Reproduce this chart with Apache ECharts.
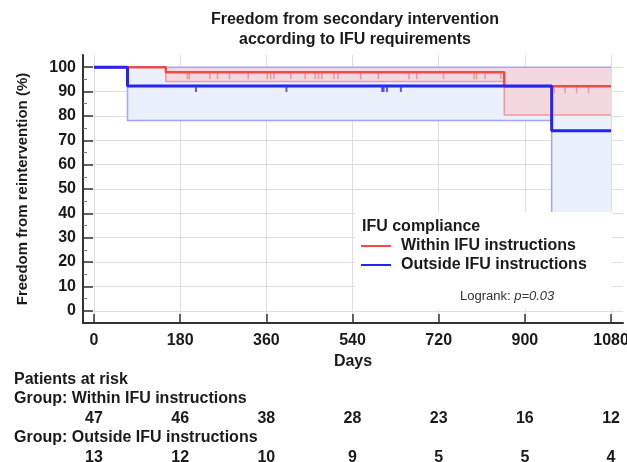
<!DOCTYPE html>
<html>
<head>
<meta charset="utf-8">
<script src="https://cdn.jsdelivr.net/npm/echarts@6/dist/echarts.min.js"></script>
<style>
  html, body { margin: 0; padding: 0; background: #fff; }
  #main { width: 627px; height: 462px; }
</style>
</head>
<body>
<div id="main"></div>
<script>
var FONT = '"Liberation Sans", Arial, sans-serif';

// axis ticks
var dayTicks = [0, 180, 360, 540, 720, 900, 1080];
var pctTicks = [0, 10, 20, 30, 40, 50, 60, 70, 80, 90, 100];
var pctMinor = [5, 15, 25, 35, 45, 55, 65, 75, 85, 95];

// patients at risk at each day tick
var riskWithin = [47, 46, 38, 28, 23, 16, 12];
var riskOutside = [13, 12, 10, 9, 5, 5, 4];

// Within IFU instructions (KM steps + 95% CI)
var withinTimes = [0, 150, 857, 1080];
var withinSurv = [100, 97.9, 92.2, 92.2];
var withinLower = [100, 94.1, 80.4, 80.4];
var withinUpper = [100, 100, 100, 100];
var withinCensored = [195, 199, 242, 258, 283, 322, 362, 369, 376, 411, 441, 462, 469, 476,
  501, 510, 557, 594, 658, 674, 730, 794, 799, 817, 850, 961, 984, 1008, 1033];

// Outside IFU instructions
var outsideTimes = [0, 70, 956, 1080];
var outsideSurv = [100, 92.3, 73.9, 73.9];
var outsideLower = [100, 78.1, 40, 40];
var outsideUpper = [100, 100, 100, 100];
var outsideCensored = [213, 402, 602, 605, 612, 641];

function pairs(xs, ys) {
  return xs.map(function (x, i) { return [x, ys[i]]; });
}
function bands(times, lo, hi) {
  var out = [];
  for (var i = 0; i < times.length - 1; i++) {
    if (hi[i] > lo[i]) out.push([times[i], times[i + 1], lo[i], hi[i]]);
  }
  return out;
}
function survAt(times, surv, t) {
  var v = surv[0];
  for (var i = 0; i < times.length; i++) { if (times[i] <= t) v = surv[i]; }
  return v;
}
function censorPoints(times, surv, cens) {
  return cens.map(function (t) { return [t, survAt(times, surv, t)]; });
}
function bandRenderer(fill) {
  return function (params, api) {
    var a = api.coord([api.value(0), api.value(3)]);
    var b = api.coord([api.value(1), api.value(2)]);
    return {
      type: 'rect',
      shape: { x: a[0], y: a[1], width: b[0] - a[0], height: b[1] - a[1] },
      style: { fill: fill }
    };
  };
}

var chartDom = document.getElementById('main');
var myChart = echarts.init(chartDom);
var option;

var tickLabel = { fontFamily: FONT, fontSize: 16, fontWeight: 'bold', color: '#1a1a1a' };

option = {
  animation: false,
  title: {
    text: 'Freedom from secondary intervention\naccording to IFU requirements',
    left: 355,
    top: 10,
    padding: 0,
    textAlign: 'center',
    textStyle: { fontFamily: FONT, fontSize: 16, fontWeight: 'bold', color: '#1a1a1a', lineHeight: 20 }
  },
  grid: { left: 83, right: 4, top: 55, bottom: 139, outerBoundsMode: 'none', containLabel: false },
  legend: {
    orient: 'vertical',
    left: 361,
    top: 238,
    padding: 0,
    itemGap: 3,
    itemWidth: 30,
    itemHeight: 2,
    icon: 'rect',
    z: 20,
    data: ['Within IFU instructions', 'Outside IFU instructions'],
    textStyle: { fontFamily: FONT, fontSize: 16, fontWeight: 'bold', color: '#1a1a1a', padding: [0, 0, 0, 5] }
  },
  xAxis: [
    {
      type: 'value', min: -23, max: 1105, position: 'bottom',
      name: 'Days', nameLocation: 'middle', nameGap: 30,
      nameTextStyle: tickLabel,
      axisLine: { onZero: false, lineStyle: { color: '#333', width: 2 } },
      axisTick: { customValues: dayTicks, inside: true, length: 9, lineStyle: { color: '#333', width: 1.5 } },
      axisLabel: Object.assign({
        customValues: dayTicks, margin: 10,
        formatter: function (v) { return String(v); }
      }, tickLabel),
      splitLine: { show: true, lineStyle: { color: '#dedede', width: 1 } }
    },
    {
      type: 'value', min: -23, max: 1105, position: 'bottom', offset: 83,
      axisLine: { show: false, onZero: false },
      axisTick: { show: false },
      splitLine: { show: false },
      axisLabel: Object.assign({
        customValues: dayTicks, margin: 5,
        formatter: function (v) { return String(riskWithin[dayTicks.indexOf(v)]); }
      }, tickLabel)
    },
    {
      type: 'value', min: -23, max: 1105, position: 'bottom', offset: 122,
      axisLine: { show: false, onZero: false },
      axisTick: { show: false },
      splitLine: { show: false },
      axisLabel: Object.assign({
        customValues: dayTicks, margin: 5,
        formatter: function (v) { return String(riskOutside[dayTicks.indexOf(v)]); }
      }, tickLabel)
    }
  ],
  yAxis: [
    {
      type: 'value', min: -5, max: 105, position: 'left',
      name: 'Freedom from reintervention (%)', nameLocation: 'middle', nameGap: 53,
      nameTextStyle: { fontFamily: FONT, fontSize: 15, fontWeight: 'bold', color: '#1a1a1a' },
      axisLine: { onZero: false, lineStyle: { color: '#333', width: 2 } },
      axisTick: { customValues: pctTicks, inside: true, length: 10, lineStyle: { color: '#333', width: 1.5 } },
      axisLabel: Object.assign({ customValues: pctTicks, margin: 7 }, tickLabel),
      splitLine: { show: true, lineStyle: { color: '#dedede', width: 1 } }
    },
    {
      type: 'value', min: -5, max: 105, position: 'left',
      axisLine: { show: false, onZero: false },
      axisTick: { customValues: pctMinor, inside: true, length: 4, lineStyle: { color: '#777', width: 1 } },
      axisLabel: { show: false },
      splitLine: { show: false }
    }
  ],
  graphic: [
    { type: 'rect', z: 10, shape: { x: 355, y: 212, width: 257, height: 97 }, style: { fill: '#fff' } },
    { type: 'text', z: 20, left: 362, top: 219,
      style: { text: 'IFU compliance', font: 'bold 16px ' + FONT, fill: '#1a1a1a' } },
    { type: 'text', z: 20, left: 460, top: 290,
      style: {
        text: 'Logrank: {i|p=0.03}', font: '13px ' + FONT, fill: '#333',
        rich: { i: { fontStyle: 'italic', fontFamily: FONT, fontSize: 13, fill: '#333' } }
      } },
    { type: 'text', left: 14, top: 372,
      style: { text: 'Patients at risk', font: 'bold 16px ' + FONT, fill: '#1a1a1a' } },
    { type: 'text', left: 14, top: 391,
      style: { text: 'Group: Within IFU instructions', font: 'bold 16px ' + FONT, fill: '#1a1a1a' } },
    { type: 'text', left: 14, top: 430,
      style: { text: 'Group: Outside IFU instructions', font: 'bold 16px ' + FONT, fill: '#1a1a1a' } }
  ],
  series: [
    {
      type: 'custom', z: 1, silent: true,
      renderItem: bandRenderer('#eaf1fc'),
      encode: { x: [0, 1], y: [2, 3] },
      data: bands(outsideTimes, outsideLower, outsideUpper)
    },
    {
      type: 'custom', z: 1, silent: true,
      renderItem: bandRenderer('#f4d8e0'),
      encode: { x: [0, 1], y: [2, 3] },
      data: bands(withinTimes, withinLower, withinUpper)
    },
    {
      type: 'line', z: 2, step: 'end', symbol: 'none',
      lineStyle: { color: '#f29a9a', width: 1.5 },
      data: pairs(withinTimes, withinLower)
    },
    {
      type: 'line', z: 2, step: 'end', symbol: 'none',
      lineStyle: { color: '#a3a3fa', width: 1.5 },
      data: pairs(outsideTimes, outsideLower)
    },
    {
      type: 'line', z: 2, step: 'end', symbol: 'none',
      lineStyle: { color: '#a3a3fa', width: 1.5 },
      data: pairs(outsideTimes.slice(1), outsideUpper.slice(1))
    },
    {
      name: 'Within IFU instructions',
      type: 'line', z: 3, step: 'end', symbol: 'none',
      color: '#ef4b4b',
      lineStyle: { color: '#ef4b4b', width: 2.5 },
      data: pairs(withinTimes, withinSurv)
    },
    {
      name: 'Outside IFU instructions',
      type: 'line', z: 4, step: 'end', symbol: 'none',
      color: '#2525ee',
      lineStyle: { color: '#2525ee', width: 3 },
      data: pairs(outsideTimes, outsideSurv)
    },
    {
      type: 'scatter', z: 5, silent: true,
      symbol: 'rect', symbolSize: [1.5, 7], symbolOffset: [0, 3.5],
      itemStyle: { color: 'rgba(239,75,75,0.6)' },
      data: censorPoints(withinTimes, withinSurv, withinCensored)
    },
    {
      type: 'scatter', z: 5, silent: true,
      symbol: 'rect', symbolSize: [2, 6], symbolOffset: [0, 3],
      itemStyle: { color: '#3535ee' },
      data: censorPoints(outsideTimes, outsideSurv, outsideCensored)
    }
  ]
};

option && myChart.setOption(option);
</script>
</body>
</html>
